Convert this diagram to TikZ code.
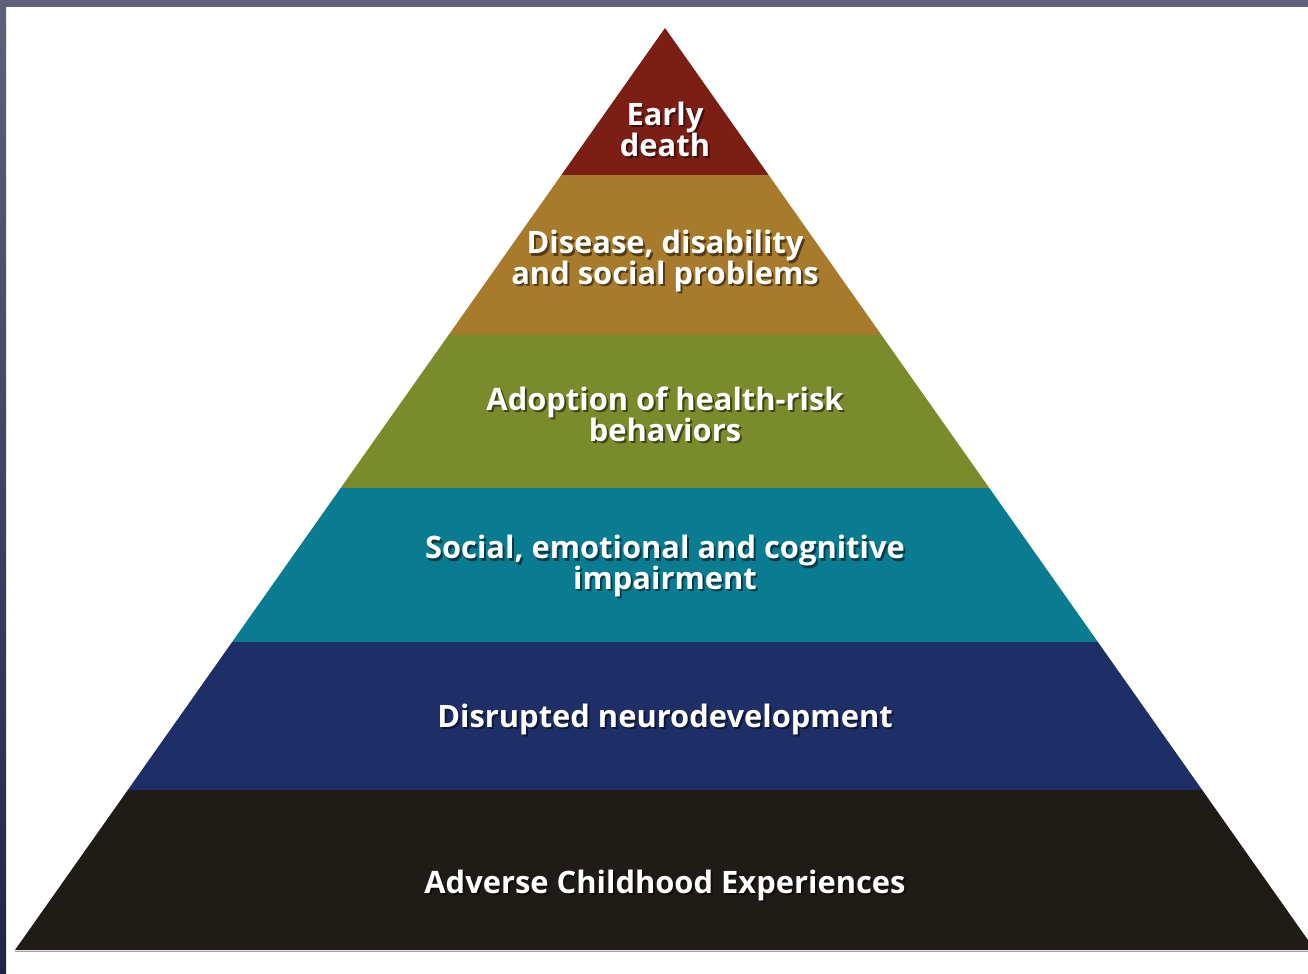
\documentclass[tikz,border=0pt]{standalone}
\usepackage{fontspec}
\setmainfont{Open Sans}
\usetikzlibrary{calc}

\definecolor{frametop}{HTML}{5F6179}
\definecolor{framebot}{HTML}{23244A}
\definecolor{tierA}{HTML}{7B1F15}
\definecolor{tierB}{HTML}{A87A2C}
\definecolor{tierC}{HTML}{7A8B2B}
\definecolor{tierD}{HTML}{0A7C92}
\definecolor{tierE}{HTML}{1D2F66}
\definecolor{tierF}{HTML}{1F1C18}

\tikzset{
  lbl/.style={align=center, text=white, inner sep=0pt,
    font=\fontsize{31}{31}\selectfont\bfseries},
  lblshadow/.style={lbl, text=black, text opacity=#1},
}

% one horizontal band of the pyramid, between fractions #2 and #3 of its height
\newcommand\pyrband[3]{%
  \fill[#1] ($(apex)!#2!(bl)$) -- ($(apex)!#2!(br)$)
           -- ($(apex)!#3!(br)$) -- ($(apex)!#3!(bl)$) -- cycle;}

% white caption with a dark drop shadow
\newcommand\pyrlabel[3]{%
  \node[lblshadow=.5] (#1s) at ($(#2)+(2,2.5)$) {#3};
  \node[lbl] (#1) at (#2) {#3};}

\begin{document}
\begin{tikzpicture}[x=1bp,y=-1bp]
  \useasboundingbox (0,0) rectangle (1308,973);
  \fill[white] (0,0) rectangle (1308,973);

  % frame along the top and left edges
  \fill[frametop] (0,0) rectangle (1308,7);
  \shade[top color=frametop, bottom color=framebot] (0,0) rectangle (6,973);

  \coordinate (apex) at (665,28);
  \coordinate (bl) at (15,950);
  \coordinate (br) at (1315,950);

  % shadow line under the base
  \draw[gray!70, line width=1.5] (15,951.5) -- (1308,951.5);

  \fill[tierA] (apex) -- ($(apex)!0.15944!(br)$) -- ($(apex)!0.15944!(bl)$) -- cycle;
  \pyrband{tierB}{0.15944}{0.33297}
  \pyrband{tierC}{0.33297}{0.49892}
  \pyrband{tierD}{0.49892}{0.66594}
  \pyrband{tierE}{0.66594}{0.82646}
  \pyrband{tierF}{0.82646}{1}

  \pyrlabel{death}{665,129}{Early\\death}
  \pyrlabel{disease}{665,261}{Disease, disability\\and social problems}
  \pyrlabel{risk}{665,414}{Adoption of health-risk\\behaviors}
  \pyrlabel{impair}{665,566}{Social, emotional and cognitive\\impairment}
  \pyrlabel{neuro}{665,719}{Disrupted neurodevelopment}
  \pyrlabel{ace}{665,885}{Adverse Childhood Experiences}
\end{tikzpicture}
\end{document}
